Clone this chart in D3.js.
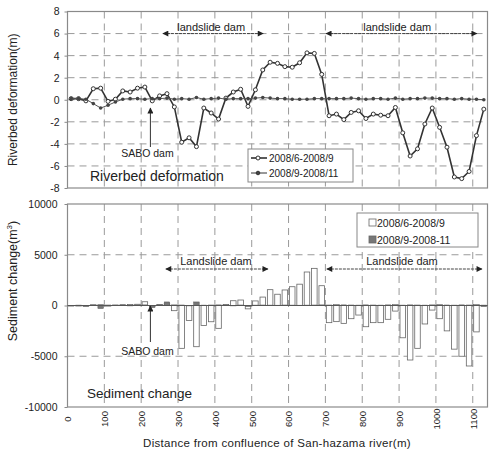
<!DOCTYPE html>
<html>
<head>
<meta charset="utf-8">
<script src="https://cdn.jsdelivr.net/npm/d3@7"></script>
<style>
  body { margin: 0; background: #fff; }
  text { font-family: "Liberation Sans", Arial, sans-serif; fill: #222; }
</style>
</head>
<body>
<svg id="chart" width="495" height="454"></svg>
<script>
// distance of each survey section (m)
const distance = [10,30,50,70,90,110,130,150,170,190,210,230,250,270,290,310,330,350,370,390,
  410,430,450,470,490,510,530,550,570,590,610,630,650,670,690,710,730,750,770,790,
  810,830,850,870,890,910,930,950,970,990,1010,1030,1050,1070,1090,1110,1130]

// riverbed deformation (m)
const deformJunSep = [0.1,0.1,-0.1,1.0,1.05,-0.15,0.05,0.8,0.7,1.05,1.15,-0.1,0.35,0.55,-0.65,-3.85,-3.45,-4.25,-0.75,-1.2,
  -1.75,0.15,0.7,0.95,-0.6,0.9,2.7,3.4,3.3,3.0,2.95,3.35,4.25,4.2,2.3,-1.45,-1.3,-1.8,-1.15,-1.0,
  -1.7,-1.3,-1.4,-1.45,-0.7,-3.0,-5.1,-4.45,-2.2,-0.75,-2.5,-4.3,-7.0,-7.15,-6.5,-3.25,-0.85]
const deformSepNov = [0.1,0.1,0.05,-0.35,-0.75,-0.5,-0.2,0.05,0.1,0.1,0.05,0.1,0.1,0.15,0.05,0.1,0.05,0.2,0.05,0.1,
  0.15,0.05,0.1,0.1,0.1,0.15,0.2,0.15,0.1,0.1,0.05,0.05,0.05,0.1,0.1,0.1,0.1,0.1,0.15,0.1,
  0.05,0.1,0.1,0.05,0.15,0.05,0.1,0.1,0.15,0.15,0.1,0.1,0.05,0.1,0.05,0.05,0.0]

// sediment change (m3)
const sedJunSep = [0,-50,-80,50,80,-60,40,60,100,120,370,-80,100,150,-510,-4220,-1480,-4060,-1970,-1600,
  -2250,100,470,540,-330,450,830,1560,1110,1530,1850,2100,3300,3660,1950,-1690,-1590,-1760,-1300,-940,
  -2090,-1690,-1690,-1360,-550,-3180,-5370,-4220,-1820,-450,-1300,-2500,-4300,-5000,-5960,-2600,-100]
const sedSepNov = [-60,40,-50,60,-300,50,40,60,-40,50,60,-200,50,350,60,50,-40,350,40,50,
  60,40,-40,50,-100,40,50,40,30,50,40,30,40,50,60,50,80,60,50,40,
  60,50,40,60,80,40,60,50,40,60,80,50,40,60,50,80,40]

const xTicks = [0,100,200,300,400,500,600,700,800,900,1000,1100]
const topTicks = [-8,-6,-4,-2,0,2,4,6,8]
const botTicks = [-10000,-5000,0,5000,10000]
const seriesNames = ['2008/6-2008/9', '2008/9-2008/11']
const barNames = ['2008/6-2008/9', '2008/9-2008-11']

// annotations (m along river)
const landslideTop = [[259, 531], [702, 1111]]
const landslideBot = [[267, 544], [704, 1125]]
const saboDam = 225

const svg = d3.select('#chart')
const x = d3.scaleLinear().domain([0, 1140]).range([67.5, 487.5])
const yTop = d3.scaleLinear().domain([-8, 8]).range([188, 11.5])
const yBot = d3.scaleLinear().domain([-10000, 10000]).range([407, 204])

const defs = svg.append('defs')
defs.append('marker').attr('id', 'arr')
  .attr('viewBox', '0 0 10 10').attr('refX', 9).attr('refY', 5)
  .attr('markerWidth', 7).attr('markerHeight', 6).attr('orient', 'auto-start-reverse')
  .attr('markerUnits', 'userSpaceOnUse')
  .append('path').attr('d', 'M0,0L10,5L0,10z').attr('fill', '#222')

function panel(y, ticks, pad){
  const g = svg.append('g')
  const [x0, x1] = x.range()
  g.selectAll('.hg').data(ticks.slice(1, -1)).enter().append('line')
    .attr('x1', x0).attr('x2', x1)
    .attr('y1', d => y(d)).attr('y2', d => y(d))
    .attr('stroke', '#9a9a9a').attr('stroke-dasharray', '7,5')
  g.selectAll('.vg').data(xTicks.slice(1)).enter().append('line')
    .attr('x1', d => x(d)).attr('x2', d => x(d))
    .attr('y1', y.range()[1]).attr('y2', y.range()[0])
    .attr('stroke', '#9a9a9a').attr('stroke-dasharray', '7,5')
  g.append('rect')
    .attr('x', x0).attr('y', y.range()[1])
    .attr('width', x1 - x0).attr('height', y.range()[0] - y.range()[1])
    .attr('fill', 'none').attr('stroke', '#8a8a8a').attr('stroke-width', 1.2)
  g.append('g').attr('transform', `translate(${x0},0)`)
    .call(d3.axisLeft(y).tickValues(ticks).tickSize(3).tickPadding(pad).tickFormat(d => String(d)))
    .call(a => a.select('.domain').remove())
    .call(a => a.selectAll('line').attr('stroke', '#8a8a8a'))
    .call(a => a.selectAll('text').attr('font-size', 10.5).attr('fill', '#222')
      .attr('font-family', '"Liberation Sans", Arial, sans-serif'))
  return g
}

// ---------- top panel: riverbed deformation ----------
panel(yTop, topTicks, 5)

const line = d3.line().x((d, i) => x(distance[i])).y(d => yTop(d))
svg.append('path').datum(deformJunSep)
  .attr('d', line).attr('fill', 'none').attr('stroke', '#333').attr('stroke-width', 1.6)
svg.append('g').selectAll('circle').data(deformJunSep).enter().append('circle')
  .attr('cx', (d, i) => x(distance[i])).attr('cy', d => yTop(d)).attr('r', 2)
  .attr('fill', '#fff').attr('stroke', '#333').attr('stroke-width', 1)
svg.append('path').datum(deformSepNov)
  .attr('d', line).attr('fill', 'none').attr('stroke', '#555').attr('stroke-width', 1)
svg.append('g').selectAll('circle').data(deformSepNov).enter().append('circle')
  .attr('cx', (d, i) => x(distance[i])).attr('cy', d => yTop(d)).attr('r', 1.8)
  .attr('fill', '#444')

// landslide dam arrows (top)
landslideTop.forEach(r => {
  svg.append('line')
    .attr('x1', x(r[0])).attr('x2', x(r[1])).attr('y1', yTop(6)).attr('y2', yTop(6))
    .attr('stroke', '#444').attr('stroke-width', 1).attr('stroke-dasharray', '3,1')
    .attr('marker-start', 'url(#arr)').attr('marker-end', 'url(#arr)')
})
svg.append('text').attr('x', x(390)).attr('y', 31).attr('text-anchor', 'middle')
  .attr('font-size', 11).text('landslide dam')
svg.append('text').attr('x', x(895)).attr('y', 31).attr('text-anchor', 'middle')
  .attr('font-size', 11).text('landslide dam')

// SABO dam (top)
svg.append('line').attr('x1', x(saboDam)).attr('x2', x(saboDam)).attr('y1', 147).attr('y2', 108)
  .attr('stroke', '#333').attr('stroke-width', 1).attr('marker-end', 'url(#arr)')
svg.append('text').attr('x', x(saboDam) - 3).attr('y', 157).attr('text-anchor', 'middle')
  .attr('font-size', 10.5).text('SABO dam')

svg.append('text').attr('x', 90).attr('y', 181).attr('font-size', 14).text('Riverbed deformation')

// top legend
const lgT = svg.append('g').attr('transform', 'translate(248,149)')
lgT.append('rect').attr('width', 105).attr('height', 33).attr('fill', '#fff').attr('stroke', '#888')
seriesNames.forEach((n, i) => {
  const yy = 9 + i * 15
  lgT.append('line').attr('x1', 3).attr('x2', 19).attr('y1', yy).attr('y2', yy)
    .attr('stroke', '#333').attr('stroke-width', i ? 1 : 1.6)
  lgT.append('circle').attr('cx', 10).attr('cy', yy).attr('r', i ? 1.8 : 2)
    .attr('fill', i ? '#444' : '#fff').attr('stroke', '#333')
  lgT.append('text').attr('x', 21).attr('y', yy + 3.5).attr('font-size', 10)
    .attr('font-family', '"DejaVu Sans", sans-serif').text(n)
})

svg.append('text').attr('transform', `translate(17,${yTop(0)}) rotate(-90)`)
  .attr('text-anchor', 'middle').attr('font-size', 12).text('Riverbed deformation(m)')

// ---------- bottom panel: sediment change ----------
panel(yBot, botTicks, 7)

const bw = (x(20) - x(0)) * 0.75
svg.append('g').selectAll('rect').data(sedJunSep).enter().append('rect')
  .attr('x', (d, i) => x(distance[i]) - bw / 2).attr('width', bw)
  .attr('y', d => yBot(Math.max(0, d))).attr('height', d => Math.abs(yBot(d) - yBot(0)))
  .attr('fill', '#fff').attr('stroke', '#666').attr('stroke-width', 0.8)
svg.append('g').selectAll('rect').data(sedSepNov).enter().append('rect')
  .attr('x', (d, i) => x(distance[i]) - bw / 2).attr('width', bw)
  .attr('y', d => yBot(Math.max(0, d))).attr('height', d => Math.abs(yBot(d) - yBot(0)))
  .attr('fill', '#777').attr('stroke', '#555').attr('stroke-width', 0.5)
svg.append('line').attr('x1', x.range()[0]).attr('x2', x.range()[1])
  .attr('y1', yBot(0)).attr('y2', yBot(0)).attr('stroke', '#555').attr('stroke-width', 1)

landslideBot.forEach(r => {
  svg.append('line')
    .attr('x1', x(r[0])).attr('x2', x(r[1])).attr('y1', 269).attr('y2', 269)
    .attr('stroke', '#444').attr('stroke-width', 1).attr('stroke-dasharray', '3,1')
    .attr('marker-start', 'url(#arr)').attr('marker-end', 'url(#arr)')
})
svg.append('text').attr('x', x(403)).attr('y', 265).attr('text-anchor', 'middle')
  .attr('font-size', 11).text('Landslide dam')
svg.append('text').attr('x', x(908)).attr('y', 265).attr('text-anchor', 'middle')
  .attr('font-size', 11).text('Landslide dam')

svg.append('line').attr('x1', x(saboDam)).attr('x2', x(saboDam)).attr('y1', 342).attr('y2', 306)
  .attr('stroke', '#333').attr('stroke-width', 1).attr('marker-end', 'url(#arr)')
svg.append('text').attr('x', x(saboDam) - 3).attr('y', 355).attr('text-anchor', 'middle')
  .attr('font-size', 10.5).text('SABO dam')

svg.append('text').attr('x', 87).attr('y', 398).attr('font-size', 13.5).text('Sediment change')

// bottom legend
const lgB = svg.append('g').attr('transform', 'translate(357,213)')
lgB.append('rect').attr('width', 121).attr('height', 34).attr('fill', '#fff').attr('stroke', '#888')
barNames.forEach((n, i) => {
  const yy = 9.5 + i * 17
  lgB.append('rect').attr('x', 12).attr('y', yy - 3.5).attr('width', 7).attr('height', 7)
    .attr('fill', i ? '#777' : '#fff').attr('stroke', '#666').attr('stroke-width', 0.8)
  lgB.append('text').attr('x', 20).attr('y', yy + 4).attr('font-size', 10.5)
    .attr('font-family', '"DejaVu Sans", sans-serif').text(n)
})

const yl = svg.append('text').attr('transform', 'translate(17,281) rotate(-90)')
  .attr('text-anchor', 'middle').attr('font-size', 12.5)
yl.append('tspan').text('Sediment change(m')
yl.append('tspan').attr('font-size', 8).attr('dy', -5).text('3')
yl.append('tspan').attr('dy', 5).text(')')

// x axis labels (rotated)
svg.append('g').attr('transform', `translate(0,${yBot.range()[0]})`)
  .call(d3.axisBottom(x).tickValues(xTicks).tickSize(0).tickFormat(d => String(d)))
  .call(a => a.select('.domain').remove())
  .call(a => a.selectAll('text')
    .attr('font-size', 9.5).attr('fill', '#222')
    .attr('font-family', '"Liberation Sans", Arial, sans-serif')
    .attr('transform', 'translate(0,12) rotate(-90)')
    .attr('text-anchor', 'middle').attr('dy', '0.35em').attr('y', 0))

svg.append('text').attr('x', 277).attr('y', 447).attr('text-anchor', 'middle')
  .attr('font-size', 11.5).attr('letter-spacing', 0.3)
  .text('Distance from confluence of San-hazama river(m)')
</script>
</body>
</html>
